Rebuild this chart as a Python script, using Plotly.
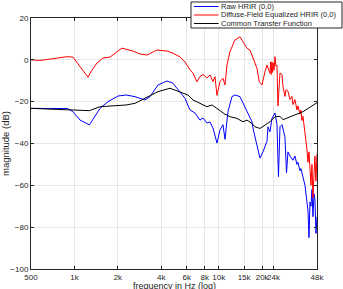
import plotly.graph_objects as go
import math

# ---------------- data ----------------
raw_f = [500, 700, 900, 977, 1093, 1270, 1388, 1504, 1709, 2004, 2277, 2628, 3083, 3339,
         3794, 4379, 4820, 5220, 5838, 6323, 6847, 7416, 7780, 8293, 8700, 9127, 9727,
         10204, 10704, 11051, 11593, 12354, 12960, 14038, 14728, 15698, 16469, 17002,
         17276, 18413, 19318, 20265, 21602, 21949, 22664, 23396, 24543, 25339, 25744,
         25950, 26583, 27444, 28787, 29254, 29500, 30200, 31179, 32709, 33762, 34861,
         35420, 36569, 37155, 38370, 39614, 40898, 41558, 42229, 42908, 43597, 44298,
         45017, 45741, 46472, 47206, 48000]
raw_db = [-23.2, -23.3, -23.3, -24.8, -28.8, -31.1, -27.2, -23.2, -20.0, -17.3, -16.8, -17.6,
          -19.2, -17.6, -12.0, -10.1, -11.2, -14.4, -18.4, -24.0, -25.4, -28.8, -27.8, -30.2,
          -29.7, -32.6, -39.8, -33.5, -31.0, -38.0, -24.8, -17.6, -16.8, -17.6, -20.6, -24.8,
          -27.8, -29.6, -32.7, -40.7, -47.0, -44.0, -39.0, -32.0, -34.4, -28.0, -25.4, -31.0,
          -44.0, -55.8, -32.0, -31.0, -37.0, -45.0, -54.0, -44.0, -46.0, -48.0, -46.0, -50.0,
          -49.0, -53.0, -52.0, -56.0, -60.0, -68.0, -72.0, -85.0, -68.0, -70.0, -62.0, -75.0,
          -64.0, -67.0, -83.0, -75.0]

dfe_f = [500, 577, 700, 888, 977, 1093, 1183, 1242, 1320, 1434, 1578, 1764, 2136, 2546,
         2846, 3183, 3733, 4379, 4820, 5390, 5838, 6323, 6633, 7068, 7416, 7780, 8293,
         8700, 9127, 9422, 9727, 10204, 10704, 11051, 11409, 11967, 12960, 14038, 14728,
         15698, 16469, 17276, 18413, 19100, 19945, 20922, 21602, 22664, 22900, 23100,
         23396, 23600, 23900, 24154, 24543, 24936, 25339, 25744, 26160, 26583, 27444,
         27887, 28787, 29254, 30200, 31179, 32188, 32709, 33762, 34861, 35420, 36569,
         37155, 37753, 38370, 39614, 40253, 40898, 41558, 42229, 42908, 43597, 44298,
         45017, 45741, 46472, 47206, 48000]
dfe_db = [0.0, -0.3, 0.5, 1.5, 1.3, -3.3, -6.5, -8.3, -5.0, -1.5, 0.9, 1.3, 5.6, 4.2, 2.8,
          2.3, 4.7, 4.2, 3.2, 1.4, -1.0, -4.8, -6.4, -10.5, -8.0, -7.0, -8.7, -7.2, -10.4,
          -8.0, -17.0, -10.4, -8.8, -12.0, -2.5, 3.9, 9.5, 11.0, 8.7, 5.5, 4.7, 0.7, -4.0,
          -10.4, -12.0, -5.7, -2.5, -6.4, -1.0, -7.0, -0.9, -6.0, -1.5, -5.0, 1.5, -3.0,
          -2.5, -22.0, -10.0, -6.3, -7.0, -12.7, -17.5, -14.3, -15.0, -19.0, -17.5, -21.4,
          -19.0, -24.0, -22.0, -26.0, -24.0, -29.0, -27.0, -34.0, -38.0, -43.0, -49.0,
          -44.0, -52.0, -60.0, -50.0, -66.0, -55.0, -46.0, -58.0, -45.0]

ctf_f = [500, 900, 1270, 1504, 2004, 2277, 2628, 3083, 3794, 4595, 5390, 6124, 6633, 7416,
         8293, 9000, 9727, 10450, 11051, 12000, 13380, 14728, 15698, 17002, 17834, 19318,
         20922, 22664, 24543, 26583, 27887, 31179, 36569, 38370, 48000]
ctf_db = [-23.2, -24.0, -24.3, -22.4, -21.9, -21.6, -20.8, -18.4, -15.2, -13.6, -15.2, -16.8,
          -19.2, -20.8, -22.4, -21.6, -23.2, -24.8, -26.0, -27.2, -28.0, -29.6, -28.8, -30.4,
          -32.0, -32.8, -31.2, -29.6, -27.2, -27.0, -28.6, -27.2, -25.5, -24.8, -20.5]

x_tickvals = [500, 1000, 2000, 4000, 6000, 8000, 10000, 15000, 20000, 24000, 48000]
x_ticktext = ['500', '1k', '2k', '4k', '6k', '8k', '10k', '15k', '20k', '24k', '48k']
y_tickvals = [-100, -80, -60, -40, -20, 0, 20]
legend_names = ['Raw HRIR (0,0)', 'Diffuse-Field Equalized HRIR (0,0)', 'Common Transfer Function']
colors = ['#0000ff', '#ff0000', '#000000']

FONT = 'Liberation Sans, Arial, sans-serif'
fig = go.Figure()
for fx, fy, name, c in zip([raw_f, dfe_f, ctf_f], [raw_db, dfe_db, ctf_db], legend_names, colors):
    fig.add_trace(go.Scatter(x=fx, y=fy, mode='lines', name=name,
                             line=dict(color=c, width=1), showlegend=False))

axis_common = dict(showline=True, linecolor='#262626', linewidth=1, mirror='ticks',
                   ticks='inside', ticklen=3, tickcolor='#262626', automargin=False,
                   showgrid=True, gridcolor='#e6e6e6', gridwidth=1, zeroline=False,
                   tickfont=dict(family=FONT, size=8, color='#262626'))
fig.update_xaxes(type='log', range=[math.log10(500), math.log10(48000)],
                 tickvals=x_tickvals, ticktext=x_ticktext, tickangle=0, **axis_common)
fig.update_yaxes(range=[-100, 20], tickvals=y_tickvals,
                 title=dict(text='magnitude (dB)', standoff=4,
                            font=dict(family=FONT, size=9.5, color='#262626')),
                 **axis_common)

# x-axis title placed low, as in the reference (partly cut by the bottom edge)
fig.add_annotation(xref='paper', yref='paper', x=0.5, y=-0.068, text='frequency in Hz (log)',
                   showarrow=False, xanchor='center', yanchor='middle', borderpad=0,
                   font=dict(family=FONT, size=9, color='#262626'))

# legend box drawn in paper coordinates
L, R, T, B = 0.5594, 1.0874, 1.0638, 0.9601
fig.add_shape(type='rect', xref='paper', yref='paper', x0=L, x1=R, y0=B, y1=T,
              line=dict(color='#262626', width=1), fillcolor='white', layer='above')
rows = [1.0458, 1.0120, 0.9781]
for name, c, ry in zip(legend_names, colors, rows):
    fig.add_shape(type='line', xref='paper', yref='paper', x0=0.570, x1=0.656, y0=ry, y1=ry,
                  line=dict(color=c, width=1), layer='above')
    fig.add_annotation(xref='paper', yref='paper', x=0.662, y=ry, text=name, showarrow=False,
                       xanchor='left', yanchor='middle', borderpad=0,
                       font=dict(family=FONT, size=7.5, color='#262626'))

fig.update_layout(width=343, height=289, margin=dict(l=31, r=26, t=18, b=20),
                  plot_bgcolor='white', paper_bgcolor='white', showlegend=False,
                  font=dict(family=FONT, size=8, color='#262626'))
fig.write_html('out.html')
